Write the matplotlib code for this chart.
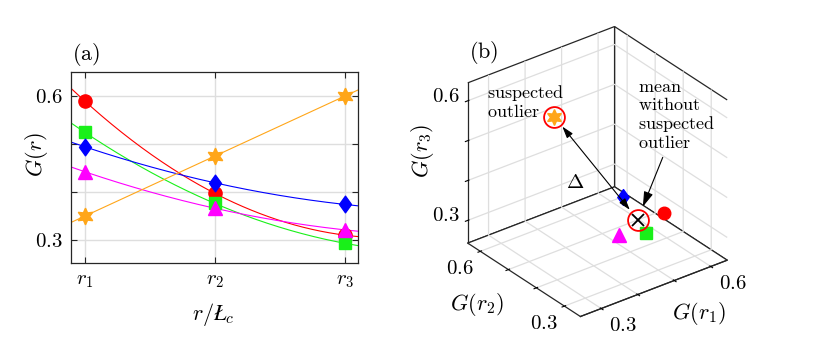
import numpy as np
import matplotlib
matplotlib.use('Agg')
import matplotlib.pyplot as plt
from matplotlib.path import Path
from mpl_toolkits.mplot3d import proj3d

plt.rcParams['mathtext.fontset'] = 'cm'
plt.rcParams['font.family'] = ['DejaVu Serif']
plt.rcParams['grid.color'] = '#dedede'
plt.rcParams['grid.linewidth'] = 0.9

# ---------------- data ----------------
r_pos = [1, 2, 3]
r_labels = [r'$r_1$', r'$r_2$', r'$r_3$']
G_red = [0.589, 0.397, 0.310]
G_green = [0.524, 0.376, 0.293]
G_blue = [0.494, 0.419, 0.374]
G_magenta = [0.442, 0.366, 0.321]
G_orange = [0.350, 0.475, 0.600]
y_ticks = [0.3, 0.4, 0.5, 0.6]
y_ticklabels = [r'$0.3$', '', '', r'$0.6$']
g_lim = (0.243, 0.645)

# ---------------- styles ----------------
diamond = Path([(0, 1), (0.72, 0), (0, -1), (-0.72, 0), (0, 1)],
               [Path.MOVETO, Path.LINETO, Path.LINETO, Path.LINETO, Path.CLOSEPOLY])
series = [
    (G_red, '#ff0000', 'o', 9.5),
    (G_green, '#19f019', 's', 9.0),
    (G_blue, '#0000ff', diamond, 12.0),
    (G_magenta, '#ff00ff', '^', 10.0),
    (G_orange, '#ffa619', (6, 1, 0), 12.0),
]
dark = '#262626'
FS = 15

fig = plt.figure(figsize=(8.3, 3.59), dpi=100)
W, H = 830, 359

# ---------------- panel (a) ----------------
ax = fig.add_axes([71 / W, 1 - 263 / H, (358 - 71) / W, (263 - 72) / H])
xlim = (0.892, 3.1)
xx = np.linspace(xlim[0], xlim[1], 200)
for vals, col, mk, ms in series:
    coef = np.polyfit(r_pos, vals, 2)
    ax.plot(xx, np.polyval(coef, xx), color=col, lw=0.8, zorder=2)
for vals, col, mk, ms in series:
    ax.plot(r_pos, vals, ls='none', marker=mk, ms=ms, color=col, mec=col, zorder=3)
ax.set_xlim(*xlim)
ax.set_ylim(0.252, 0.65)
ax.set_xticks(r_pos)
ax.set_xticklabels(r_labels, fontsize=FS)
ax.set_yticks(y_ticks)
ax.set_yticklabels(y_ticklabels, fontsize=FS)
ax.grid(True, color='#dedede', lw=1.0, zorder=0)
ax.set_axisbelow(True)
ax.tick_params(direction='in', top=True, right=True, length=4, width=0.8,
               color=dark, pad=6)
for s in ax.spines.values():
    s.set_color(dark)
    s.set_linewidth(0.9)
ax.set_ylabel(r'$G(r)$', fontsize=16)
ax.yaxis.set_label_coords(-21 / 287, (263 - 155) / 191)
ax.set_xlabel(r'$r/\L_c$', fontsize=16)
ax.xaxis.set_label_coords((213 - 71) / 287, -(301 - 263) / 191)
fig.text(86 / W, 1 - 55 / H, r'$\mathrm{(a)}$', fontsize=16, ha='center', va='center')

# ---------------- panel (b) ----------------
side = 331
cx, cy = 593, 176
ax3 = fig.add_axes([(cx - side / 2) / W, 1 - (cy + side / 2) / H, side / W, side / H],
                   projection='3d')
ax3.set_proj_type('ortho')
ax3.view_init(elev=30, azim=-127.5)
ax3.set_box_aspect((1, 1, 1), zoom=0.94)
ax3.set_xlim(*g_lim, view_margin=0)
ax3.set_ylim(*g_lim, view_margin=0)
ax3.set_zlim(*g_lim, view_margin=0)
for axis in (ax3.xaxis, ax3.yaxis, ax3.zaxis):
    axis.set_pane_color((1, 1, 1, 1))
    axis.pane.set_edgecolor(dark)
    axis.pane.set_linewidth(0.9)
    axis.line.set_color(dark)
    axis.line.set_linewidth(0.9)
    axis.set_ticks(y_ticks)
    axis.set_ticklabels([''] * len(y_ticks))
    axis._axinfo['tick']['color'] = dark
    axis._axinfo['tick']['linewidth'] = {True: 0.8, False: 0.5}

for vals, col, mk, ms in series:
    ax3.plot([vals[0]], [vals[1]], [vals[2]], ls='none', marker=mk, ms=ms * 0.95,
             color=col, mec=col)
others = [G_red, G_green, G_blue, G_magenta]
mean_pt = np.mean(np.array(others), axis=0)
ax3.plot([mean_pt[0]], [mean_pt[1]], [mean_pt[2]], ls='none', marker='x', ms=9,
         mew=1.3, color='black')
ax3.plot([mean_pt[0], G_orange[0]], [mean_pt[1], G_orange[1]], [mean_pt[2], G_orange[2]],
         ls='none', marker='o', ms=15, mfc='none', mec='#ff0000', mew=1.3)

fig.canvas.draw()
M = ax3.get_proj()


def proj(p):
    x2, y2, _ = proj3d.proj_transform(p[0], p[1], p[2], M)
    return (x2, y2)


lo, hi = g_lim
mid = 0.5 * (lo + hi)
# tick labels placed next to the projected tick positions
for t, lab in zip(y_ticks, y_ticklabels):
    if not lab:
        continue
    ax3.annotate(lab, xy=proj((t, lo, lo)), xytext=(22, -17), textcoords='offset pixels',
                 ha='center', va='center', fontsize=FS)
    ax3.annotate(lab, xy=proj((lo, t, lo)), xytext=(-21, -17), textcoords='offset pixels',
                 ha='center', va='center', fontsize=FS)
    ax3.annotate(lab, xy=proj((lo, hi, t)), xytext=(-22, 4.5), textcoords='offset pixels',
                 ha='center', va='center', fontsize=FS)
ax3.annotate(r'$G(r_1)$', xy=proj((mid, lo, lo)), xytext=(45, -25.5),
             textcoords='offset pixels', ha='center', va='center', fontsize=16)
ax3.annotate(r'$G(r_2)$', xy=proj((lo, mid, lo)), xytext=(-47, -24.5),
             textcoords='offset pixels', ha='center', va='center', fontsize=16)
ax3.annotate(r'$G(r_3)$', xy=proj((lo, hi, mid)), xytext=(-45, 12),
             textcoords='offset pixels', ha='center', va='center', fontsize=16, rotation=90)

arrow_kw = dict(arrowstyle='<|-|>,head_length=0.7,head_width=0.22', color='black',
                lw=0.8, shrinkA=9, shrinkB=9)
ax3.annotate('', xy=proj(mean_pt), xytext=proj(G_orange), arrowprops=arrow_kw)
ax3.annotate('$\\mathrm{mean}$\n$\\mathrm{without}$\n$\\mathrm{suspected}$\n$\\mathrm{outlier}$',
             xy=proj(mean_pt), xytext=(638 / W, 1 - 115 / H), textcoords='figure fraction',
             ha='left', va='center', fontsize=13, linespacing=1.0,
             arrowprops=dict(arrowstyle='-|>,head_length=0.7,head_width=0.22', color='black',
                             lw=0.8, shrinkA=2, shrinkB=10, relpos=(0.35, 0.0)))
fig.text(487 / W, 1 - 102 / H, '$\\mathrm{suspected}$\n$\\mathrm{outlier}$',
         ha='left', va='center', fontsize=13, linespacing=1.0)
fig.text(575 / W, 1 - 182 / H, r'$\Delta$', ha='center', va='center', fontsize=FS)
fig.text(484 / W, 1 - 53 / H, r'$\mathrm{(b)}$', ha='center', va='center', fontsize=16)

fig.savefig('out.png', dpi=100)
